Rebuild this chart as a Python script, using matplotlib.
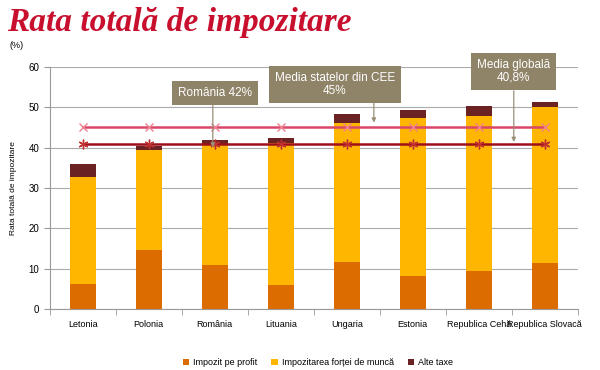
import numpy as np
import matplotlib
matplotlib.use("Agg")
import matplotlib.pyplot as plt

# Data
countries = ["Letonia", "Polonia", "România", "Lituania", "Ungaria",
             "Estonia", "Republica Cehă", "Republica Slovacă"]
impozit_profit = [6.2, 14.5, 10.9, 5.9, 11.7, 8.2, 9.5, 11.3]
impozit_munca = [26.6, 24.8, 30.0, 35.2, 34.5, 39.2, 38.4, 38.8]
alte_taxe = [3.1, 1.2, 1.0, 1.4, 2.2, 1.9, 2.5, 1.1]
media_cee = 45.0
media_globala = 40.8

c_profit = "#dd6c00"
c_munca = "#ffb600"
c_alte = "#6b2222"
c_box = "#8f8468"

plt.rcParams["font.family"] = ["Liberation Sans", "DejaVu Sans"]

fig = plt.figure(figsize=(6, 3.7), dpi=100)
ax = fig.add_axes([0.083, 0.165, 0.88, 0.654])

x = np.arange(len(countries))
w = 0.4
b1 = ax.bar(x, impozit_profit, w, color=c_profit, label="Impozit pe profit", zorder=2)
bottom2 = np.array(impozit_profit)
b2 = ax.bar(x, impozit_munca, w, bottom=bottom2, color=c_munca,
            label="Impozitarea forței de muncă", zorder=2)
bottom3 = bottom2 + np.array(impozit_munca)
b3 = ax.bar(x, alte_taxe, w, bottom=bottom3, color=c_alte, label="Alte taxe", zorder=2)

# average lines
ax.plot(x, [media_cee] * len(x), color="#d9476a", lw=1.8, marker="x",
        markersize=6, markeredgecolor="#f08090", markeredgewidth=1.0, zorder=3)
ax.plot(x, [media_globala] * len(x), color="#9e0f1c", lw=1.8, marker=(6, 2, 0),
        markersize=7, markeredgecolor="#c03030", markeredgewidth=1.0, zorder=3)

ax.set_xlim(-0.5, len(x) - 0.5)
ax.set_ylim(0, 60)
ax.set_yticks(range(0, 61, 10))
ax.set_xticks(x)
ax.set_xticklabels(countries, fontsize=6.5)
ax.set_xticks(np.arange(-0.5, len(x)), minor=True)
ax.tick_params(axis="x", which="major", length=0, pad=8)
ax.tick_params(axis="x", which="minor", length=4, color="#999999")
ax.tick_params(axis="y", labelsize=7, length=4, color="#999999")
ax.yaxis.grid(True, color="#aaaaaa", lw=0.8, zorder=0)
ax.set_axisbelow(True)
for s in ["top", "right"]:
    ax.spines[s].set_visible(False)
for s in ["left", "bottom"]:
    ax.spines[s].set_color("#999999")
ax.set_ylabel("Rata totală de impozitare", fontsize=6, labelpad=8)

# annotation boxes with straight arrows down
box = dict(boxstyle="square,pad=0.5", fc=c_box, ec="none")
arr = dict(arrowstyle="-|>", color="#9a9078", lw=0.9, mutation_scale=6,
           shrinkA=0, shrinkB=0)
notes = [
    ("România 42%", 2.0, 53.6, 1.97, 50.9, 40.0),
    ("Media statelor din CEE\n45%", 3.82, 55.6, 4.41, 51.9, 46.2),
    ("Media globală\n40,8%", 6.52, 58.9, 6.53, 54.1, 41.4),
]
for txt, tx, ty, ax_x, y_from, y_to in notes:
    ax.text(tx, ty, txt, ha="center", va="center", fontsize=8.5, color="white",
            bbox=box, linespacing=1.1, zorder=5)
    ax.annotate("", xy=(ax_x, y_to), xytext=(ax_x, y_from), arrowprops=arr, zorder=4)

fig.text(0.012, 0.94, "Rata totală de impozitare", fontsize=24, fontweight="bold",
         style="italic", family="Liberation Serif", color="#c8102e", va="center")
fig.text(0.015, 0.878, "(%)", fontsize=6.5, va="center")

fig.legend(handles=[b1, b2, b3], loc="center", bbox_to_anchor=(0.53, 0.02), ncol=3,
           frameon=False, fontsize=6.5, handlelength=0.7, handleheight=0.7,
           columnspacing=1.5, handletextpad=0.5)

fig.savefig("out.png", dpi=100)
